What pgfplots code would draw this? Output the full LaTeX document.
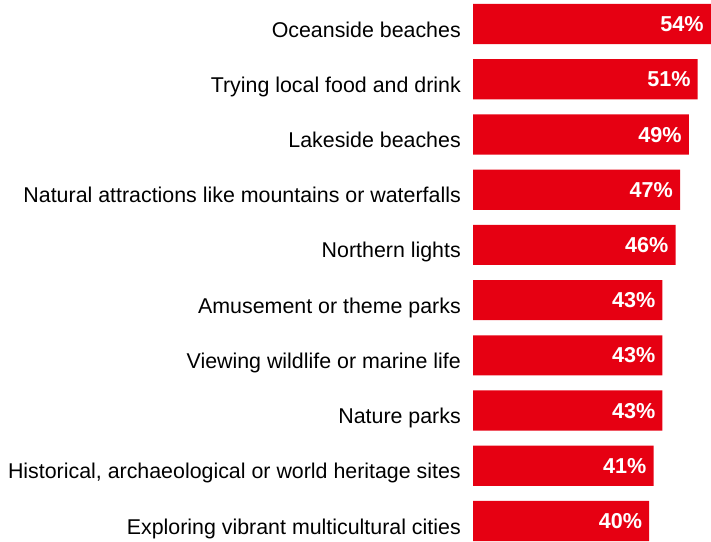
\documentclass[border=0pt]{standalone}
\usepackage{pgfplots}
\pgfplotsset{compat=1.18}
\usepackage{fontspec}
\setmainfont{Liberation Sans}
\definecolor{barred}{RGB}{230,0,18}
\begin{document}
\begin{tikzpicture}
\begin{axis}[
  xbar, scale only axis, width=237bp, height=537bp,
  xmin=0, xmax=54, ymin=-0.436, ymax=9.327, y dir=reverse,
  bar width=40bp,
  axis line style={draw=none},
  xtick=\empty,
  ytick={0,...,9},
  major tick length=0pt,
  /pgf/number format/assume math mode=true,
  yticklabels={Oceanside beaches, Trying local food and drink, Lakeside beaches,
    Natural attractions like mountains or waterfalls, Northern lights,
    Amusement or theme parks, Viewing wildlife or marine life, Nature parks,
    {Historical, archaeological or world heritage sites},
    Exploring vibrant multicultural cities},
  yticklabel style={anchor=base east, inner sep=0pt, xshift=-12bp, yshift=-13bp,
    font=\fontsize{21.3bp}{25bp}\selectfont},
  point meta=x,
  nodes near coords={\pgfmathprintnumber{\pgfplotspointmeta}\%},
  nodes near coords style={anchor=base east, text=white, inner sep=0pt,
    xshift=-7bp, yshift=-7.5bp,
    font=\bfseries\fontsize{21.5bp}{25bp}\selectfont},
  clip=false,
]
\addplot[fill=barred, draw=none] coordinates {
  (54,0) (51,1) (49,2) (47,3) (46,4) (43,5) (43,6) (43,7) (41,8) (40,9)};
\end{axis}
\path ([xshift=-8bp]current axis.outer west);
\end{tikzpicture}
\end{document}
